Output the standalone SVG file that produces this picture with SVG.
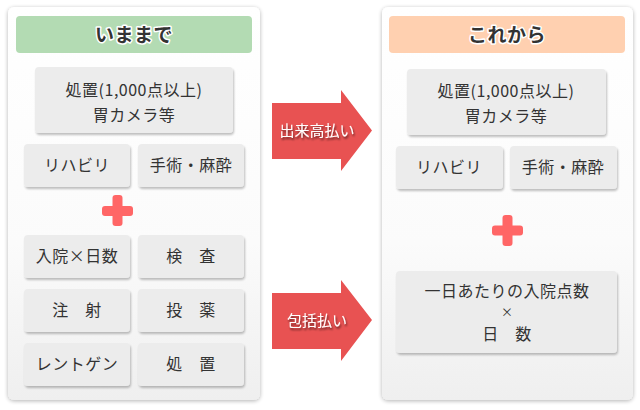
<svg xmlns="http://www.w3.org/2000/svg" width="640" height="410" viewBox="0 0 640 410">
<defs>
<linearGradient id="pg" x1="0" y1="0" x2="0" y2="1">
<stop offset="0" stop-color="#ffffff"/>
<stop offset="0.6" stop-color="#fbfbfb"/>
<stop offset="1" stop-color="#efefef"/>
</linearGradient>
<filter id="ps" x="-10%" y="-10%" width="120%" height="120%">
<feGaussianBlur in="SourceAlpha" stdDeviation="2"/>
<feOffset dx="0" dy="1"/>
<feComponentTransfer><feFuncA type="linear" slope="0.3"/></feComponentTransfer>
<feMerge><feMergeNode/><feMergeNode in="SourceGraphic"/></feMerge>
</filter>
<filter id="bs" x="-10%" y="-10%" width="120%" height="130%">
<feOffset in="SourceAlpha" dx="1" dy="1.5" result="o"/>
<feGaussianBlur in="o" stdDeviation="0.8"/>
<feComponentTransfer><feFuncA type="linear" slope="0.25"/></feComponentTransfer>
<feMerge><feMergeNode/><feMergeNode in="SourceGraphic"/></feMerge>
</filter>
<filter id="ts" x="-10%" y="-20%" width="120%" height="140%">
<feOffset in="SourceAlpha" dx="1" dy="1.5"/>
<feGaussianBlur stdDeviation="0.8"/>
<feComponentTransfer><feFuncA type="linear" slope="0.6"/></feComponentTransfer>
<feMerge><feMergeNode/><feMergeNode in="SourceGraphic"/></feMerge>
</filter>
</defs>
<style>
.panel{fill:url(#pg);filter:url(#ps)}
.box{fill:#ececec;filter:url(#bs)}
.t{font-family:"Noto Sans CJK JP","Noto Sans",sans-serif;font-size:16px;letter-spacing:0.5px;fill:#333;text-anchor:middle}
.x{font-family:"Noto Sans CJK JP","Noto Sans",sans-serif;font-size:12px;fill:#333;text-anchor:middle}
.h{font-family:"Noto Sans CJK JP","Noto Sans",sans-serif;font-size:19px;font-weight:bold;letter-spacing:0.5px;fill:#333;text-anchor:middle;stroke:#fff;stroke-width:3;paint-order:stroke;stroke-linejoin:round}
.at{font-family:"Noto Sans CJK JP","Noto Sans",sans-serif;font-size:15px;fill:#fff;text-anchor:middle;filter:url(#ts)}
.plus{fill:#ff6666}
.arrow{fill:#e85252}
</style>
<g id="left-panel">
<rect class="panel" x="8" y="7" width="252" height="393" rx="6"/>
</g>
<g id="right-panel">
<rect class="panel" x="382" y="7" width="251" height="393" rx="6"/>
</g>
<g id="left-header">
<rect x="16" y="16" width="236" height="37" rx="4" fill="#b3dbb3"/>
<text class="h" x="134" y="41.5">いままで</text>
</g>
<g id="right-header">
<rect x="389" y="16" width="236" height="37" rx="4" fill="#ffd0b0"/>
<text class="h" x="507" y="41.5">これから</text>
</g>
<g id="l-shochi1000">
<rect class="box" x="35" y="67" width="198" height="66" rx="4"/>
<text class="t" x="134" y="96">処置(1,000点以上)</text>
<text class="t" x="134" y="121">胃カメラ等</text>
</g>
<g id="l-rihabiri">
<rect class="box" x="24" y="144" width="106" height="43" rx="4"/>
<text class="t" x="77" y="171">リハビリ</text>
</g>
<g id="l-shujutsu">
<rect class="box" x="138" y="144" width="106" height="43" rx="4"/>
<text class="t" x="191" y="171">手術・麻酔</text>
</g>
<g id="l-plus">
<rect class="plus" x="102" y="206" width="31" height="10" rx="3"/>
<rect class="plus" x="112.5" y="195" width="10" height="31" rx="3"/>
</g>
<g id="l-nyuin">
<rect class="box" x="24" y="235" width="106" height="43" rx="4"/>
<text class="t" x="77" y="262">入院×日数</text>
</g>
<g id="l-kensa">
<rect class="box" x="138" y="235" width="106" height="43" rx="4"/>
<text class="t" x="191" y="262">検　査</text>
</g>
<g id="l-chusha">
<rect class="box" x="24" y="289" width="106" height="43" rx="4"/>
<text class="t" x="77" y="316">注　射</text>
</g>
<g id="l-toyaku">
<rect class="box" x="138" y="289" width="106" height="43" rx="4"/>
<text class="t" x="191" y="316">投　薬</text>
</g>
<g id="l-rentogen">
<rect class="box" x="24" y="343" width="106" height="43" rx="4"/>
<text class="t" x="77" y="370">レントゲン</text>
</g>
<g id="l-shochi">
<rect class="box" x="138" y="343" width="106" height="43" rx="4"/>
<text class="t" x="191" y="370">処　置</text>
</g>
<g id="r-shochi1000">
<rect class="box" x="407" y="69" width="199" height="66" rx="4"/>
<text class="t" x="506" y="97">処置(1,000点以上)</text>
<text class="t" x="506" y="122">胃カメラ等</text>
</g>
<g id="r-rihabiri">
<rect class="box" x="396" y="146" width="107" height="43" rx="4"/>
<text class="t" x="449" y="173">リハビリ</text>
</g>
<g id="r-shujutsu">
<rect class="box" x="510" y="146" width="107" height="43" rx="4"/>
<text class="t" x="563" y="173">手術・麻酔</text>
</g>
<g id="r-plus">
<rect class="plus" x="492" y="225.5" width="31" height="10" rx="3"/>
<rect class="plus" x="502.5" y="215" width="10" height="31" rx="3"/>
</g>
<g id="r-hokatsu">
<rect class="box" x="396" y="271" width="221" height="82" rx="4"/>
<text class="t" x="507" y="297">一日あたりの入院点数</text>
<text class="x" x="507" y="317">×</text>
<text class="t" x="507" y="339.5">日　数</text>
</g>
<g id="connectors">
<g id="arrow-dekidaka">
<polygon class="arrow" points="272,103 341,103 341,90 372,130.5 341,171 341,159 272,159"/>
<text class="at" x="317" y="136">出来高払い</text>
</g>
<g id="arrow-hokatsu">
<polygon class="arrow" points="272,293 341,293 341,280 372,320 341,361 341,349 272,349"/>
<text class="at" x="317" y="326">包括払い</text>
</g>
</g>
</svg>
